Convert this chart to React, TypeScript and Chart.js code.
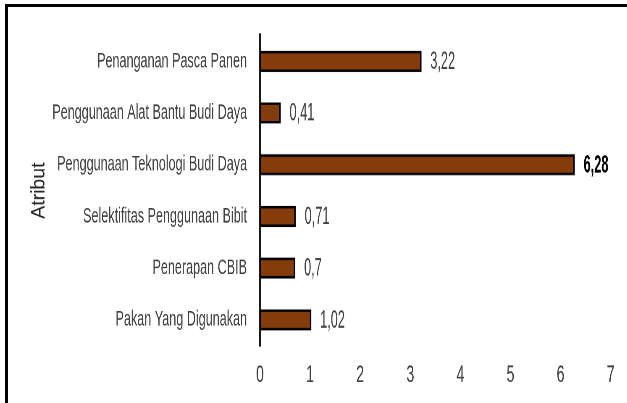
import React, { useEffect, useRef } from "react";
import { Chart, registerables } from "chart.js";

Chart.register(...registerables);

const categories = [
  "Penanganan Pasca Panen",
  "Penggunaan Alat Bantu Budi Daya",
  "Penggunaan Teknologi Budi Daya",
  "Selektifitas Penggunaan Bibit",
  "Penerapan CBIB",
  "Pakan Yang Digunakan",
];
const values = [3.22, 0.41, 6.28, 0.71, 0.7, 1.02];
const valueLabels = ["3,22", "0,41", "6,28", "0,71", "0,7", "1,02"];
const boldIndex = 2;
const xTicks = [0, 1, 2, 3, 4, 5, 6, 7];
const axisTitle = "Atribut";

const W = 627;
const H = 403;
const SX = 0.84; // horizontal squeeze (narrow face look)
const SY = 1.45; // vertical stretch of the reference picture
const CW = W / SX;
const CH = H / SY;
const FONT = "'Liberation Sans', Arial, sans-serif";

const labelPlugin = {
  id: "valueLabels",
  afterDatasetsDraw(chart: any) {
    const ctx = chart.ctx;
    const meta = chart.getDatasetMeta(0);
    meta.data.forEach((bar: any, i: number) => {
      const bold = i === boldIndex;
      ctx.save();
      ctx.translate(bar.x + 9 / SX, bar.y + 0.5);
      ctx.scale(1, 1.13);
      ctx.textBaseline = "middle";
      ctx.textAlign = "left";
      ctx.font = `${bold ? "bold " : ""}15.2px ${FONT}`;
      ctx.fillStyle = bold ? "#000000" : "#404040";
      ctx.fillText(valueLabels[i], 0, 0);
      ctx.restore();
    });
  },
  afterDraw(chart: any) {
    const ctx = chart.ctx;
    const area = chart.chartArea;
    ctx.save();
    ctx.translate(39 / SX, (area.top + area.bottom) / 2);
    ctx.scale(1 / SX, 1 / SY);
    ctx.rotate(-Math.PI / 2);
    ctx.textAlign = "center";
    ctx.textBaseline = "middle";
    ctx.font = `19.5px ${FONT}`;
    ctx.fillStyle = "#262626";
    ctx.fillText(axisTitle, 0, 0);
    ctx.restore();
  },
};

export default function App() {
  const ref = useRef<HTMLCanvasElement>(null);
  useEffect(() => {
    if (!ref.current) return;
    const chart = new Chart(ref.current, {
      type: "bar",
      data: {
        labels: categories,
        datasets: [
          {
            data: values,
            backgroundColor: "#843C0C",
            borderColor: "#000000",
            borderWidth: 1.8,
            borderSkipped: false,
            barThickness: 14,
          },
        ],
      },
      options: {
        indexAxis: "y",
        animation: false,
        responsive: false,
        devicePixelRatio: 2,
        layout: { padding: { left: 0, top: 32 / SY, right: CW - 611 / SX, bottom: 0 } },
        plugins: { legend: { display: false }, tooltip: { enabled: false } },
        scales: {
          x: {
            type: "linear",
            min: 0,
            max: 7,
            afterFit: (s: any) => {
              s.height = CH - 347 / SY;
            },
            afterBuildTicks: (s: any) => {
              s.ticks = xTicks.map((v) => ({ value: v }));
            },
            grid: { display: false, drawTicks: false },
            border: { display: false },
            ticks: {
              padding: 10,
              color: "#404040",
              font: { family: FONT, size: 17 },
            },
          },
          y: {
            afterFit: (s: any) => {
              s.width = 260 / SX;
            },
            grid: { display: false, drawTicks: false },
            border: { display: true, color: "#1a1a1a", width: 2.6 },
            ticks: {
              padding: 13 / SX,
              color: "#404040",
              font: { family: FONT, size: 15 },
            },
          },
        },
      },
      plugins: [labelPlugin],
    });
    return () => chart.destroy();
  }, []);

  return (
    <div
      style={{
        position: "absolute",
        left: 0,
        top: 0,
        width: W,
        height: H,
        overflow: "hidden",
        background: "#ffffff",
      }}
    >
      <div
        style={{
          position: "absolute",
          left: 0,
          top: 0,
          width: CW,
          height: CH,
          transform: `scale(${SX}, ${SY})`,
          transformOrigin: "0 0",
        }}
      >
        <canvas ref={ref} width={CW} height={CH} style={{ display: "block" }} />
      </div>
      <div
        style={{
          position: "absolute",
          left: 5,
          top: 4,
          width: W + 20,
          height: H + 20,
          borderTop: "3px solid #000",
          borderLeft: "3px solid #000",
          boxSizing: "border-box",
        }}
      />
    </div>
  );
}
